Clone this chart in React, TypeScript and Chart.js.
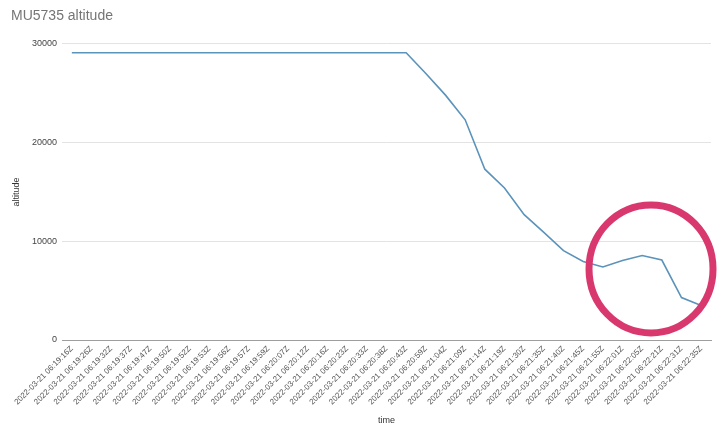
import React, { useEffect, useRef } from "react";
import { Chart, registerables } from "chart.js";

Chart.register(...registerables);

const times = [
  "06:19:16Z", "06:19:26Z", "06:19:32Z", "06:19:37Z", "06:19:47Z", "06:19:50Z",
  "06:19:52Z", "06:19:53Z", "06:19:56Z", "06:19:57Z", "06:19:59Z", "06:20:07Z",
  "06:20:12Z", "06:20:16Z", "06:20:23Z", "06:20:33Z", "06:20:38Z", "06:20:43Z",
  "06:20:59Z", "06:21:04Z", "06:21:09Z", "06:21:14Z", "06:21:19Z", "06:21:30Z",
  "06:21:35Z", "06:21:40Z", "06:21:45Z", "06:21:55Z", "06:22:01Z", "06:22:05Z",
  "06:22:21Z", "06:22:31Z", "06:22:35Z",
];
const labels = times.map((t) => "2022-03-21 " + t);

const altitude = [
  29100, 29100, 29100, 29100, 29100, 29100, 29100, 29100, 29100, 29100, 29100,
  29100, 29100, 29100, 29100, 29100, 29100, 29100,
  27000, 24800, 22300, 17300, 15400, 12700, 10900, 9050, 7950, 7400, 8050,
  8550, 8100, 4300, 3500,
];

const yTicks = [0, 10000, 20000, 30000];

// annotation circle position (in data units)
const circleCenterIndex = 29.45;
const circleCenterValue = 7200;

const circlePlugin = {
  id: "circleAnnot",
  afterDatasetsDraw(chart: any) {
    const { ctx, scales } = chart;
    const cx = scales.x.getPixelForValue(circleCenterIndex);
    const cy = scales.y.getPixelForValue(circleCenterValue);
    ctx.save();
    ctx.beginPath();
    ctx.ellipse(cx, cy, 62, 64, 0, 0, Math.PI * 2);
    ctx.lineWidth = 7;
    ctx.strokeStyle = "#d9386f";
    ctx.stroke();
    ctx.restore();
  },
};

const font = "Arial, 'Liberation Sans'";

export default function App() {
  const ref = useRef<HTMLCanvasElement>(null);
  useEffect(() => {
    document.body.style.margin = "0";
    const chart = new Chart(ref.current!, {
      type: "line",
      data: {
        labels,
        datasets: [
          {
            label: "altitude",
            data: altitude,
            borderColor: "#5b93bb",
            borderWidth: 1.6,
            pointRadius: 0,
            tension: 0,
            fill: false,
          },
        ],
      },
      plugins: [circlePlugin],
      options: {
        animation: false,
        responsive: false,
        layout: { padding: { left: 11, right: 9, top: 0, bottom: 0 } },
        plugins: {
          legend: { display: false },
          tooltip: { enabled: false },
          title: {
            display: true,
            text: "MU5735 altitude",
            align: "start",
            color: "#757575",
            font: { family: font, size: 14, weight: "normal" },
            padding: { top: 8, bottom: 19 },
          },
        },
        scales: {
          x: {
            offset: true,
            grid: { display: false, drawTicks: false },
            border: { color: "#9e9e9e", width: 1 },
            ticks: {
              autoSkip: false,
              maxRotation: 45,
              minRotation: 45,
              color: "#555",
              padding: 4,
              font: { family: font, size: 8 },
            },
            title: {
              display: true,
              text: "time",
              color: "#333",
              font: { family: font, size: 9 },
              padding: { top: 0, bottom: 3 },
            },
            afterFit: (s: any) => {
              s.height = 89;
            },
          },
          y: {
            min: 0,
            max: 30000,
            afterBuildTicks: (s: any) => {
              s.ticks = yTicks.map((v) => ({ value: v }));
            },
            grid: { color: "#e3e3e3", drawTicks: false },
            border: { display: false },
            ticks: {
              color: "#444",
              padding: 5,
              font: { family: font, size: 9 },
              callback: (v: any) => String(v),
            },
            title: {
              display: true,
              text: "altitude",
              color: "#333",
              font: { family: font, size: 9 },
              padding: { top: 0, bottom: 0 },
            },
            afterFit: (s: any) => {
              s.width = 51;
            },
          },
        },
      },
    });
    return () => chart.destroy();
  }, []);
  return <canvas ref={ref} width={720} height={429} style={{ display: "block" }} />;
}
